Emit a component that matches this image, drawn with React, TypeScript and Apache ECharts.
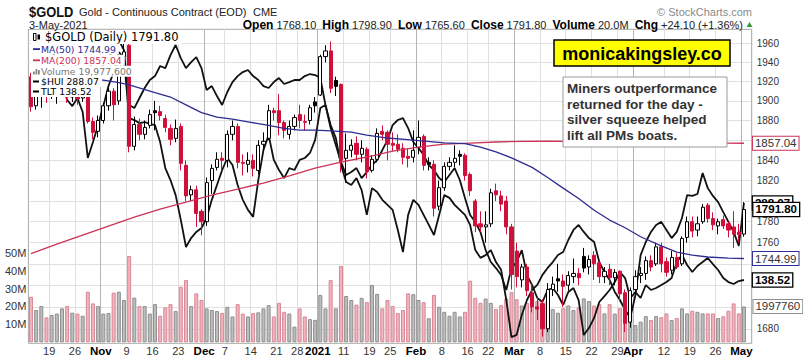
import { useEffect, useRef } from "react";
import * as echarts from "echarts";

// ---------- DATA ----------
const dates = [
  "2020-10-13","2020-10-14","2020-10-15","2020-10-16","2020-10-19","2020-10-20","2020-10-21","2020-10-22","2020-10-23","2020-10-26","2020-10-27","2020-10-28","2020-10-29","2020-10-30",
  "2020-11-02","2020-11-03","2020-11-04","2020-11-05","2020-11-06","2020-11-09","2020-11-10","2020-11-11","2020-11-12","2020-11-13","2020-11-16","2020-11-17","2020-11-18","2020-11-19","2020-11-20","2020-11-23","2020-11-24","2020-11-25","2020-11-27","2020-11-30",
  "2020-12-01","2020-12-02","2020-12-03","2020-12-04","2020-12-07","2020-12-08","2020-12-09","2020-12-10","2020-12-11","2020-12-14","2020-12-15","2020-12-16","2020-12-17","2020-12-18","2020-12-21","2020-12-22","2020-12-23","2020-12-24","2020-12-28","2020-12-29","2020-12-30","2020-12-31",
  "2021-01-04","2021-01-05","2021-01-06","2021-01-07","2021-01-08","2021-01-11","2021-01-12","2021-01-13","2021-01-14","2021-01-15","2021-01-19","2021-01-20","2021-01-21","2021-01-22","2021-01-25","2021-01-26","2021-01-27","2021-01-28","2021-01-29",
  "2021-02-01","2021-02-02","2021-02-03","2021-02-04","2021-02-05","2021-02-08","2021-02-09","2021-02-10","2021-02-11","2021-02-12","2021-02-16","2021-02-17","2021-02-18","2021-02-19","2021-02-22","2021-02-23","2021-02-24","2021-02-25","2021-02-26",
  "2021-03-01","2021-03-02","2021-03-03","2021-03-04","2021-03-05","2021-03-08","2021-03-09","2021-03-10","2021-03-11","2021-03-12","2021-03-15","2021-03-16","2021-03-17","2021-03-18","2021-03-19","2021-03-22","2021-03-23","2021-03-24","2021-03-25","2021-03-26","2021-03-29","2021-03-30","2021-03-31",
  "2021-04-01","2021-04-05","2021-04-06","2021-04-07","2021-04-08","2021-04-09","2021-04-12","2021-04-13","2021-04-14","2021-04-15","2021-04-16","2021-04-19","2021-04-20","2021-04-21","2021-04-22","2021-04-23","2021-04-26","2021-04-27","2021-04-28","2021-04-29","2021-04-30",
  "2021-05-03",
];

const opens = [
  1925,1895,1907,1908,1906,1911,1915,1929,1904,1905,1903,1910,1879,1869,
  1880,1895,1910,1900,1946,1958,1854,1876,1866,1875,1890,1889,1882,1872,1862,1874,1835,1806,1811,1790,
  1780,1820,1833,1842,1840,1866,1874,1838,1836,1840,1830,1856,1862,1890,1890,1878,1866,1874,1886,1878,1880,1899,
  1906,1946,1952,1921,1917,1842,1850,1857,1846,1851,1830,1841,1869,1868,1857,1856,1852,1844,1843,
  1853,1864,1838,1836,1795,1813,1834,1838,1846,1845,1826,1800,1778,1775,1778,1810,1805,1800,1775,
  1752,1725,1737,1713,1700,1703,1680,1716,1726,1724,1720,1728,1731,1747,1737,1748,1741,1728,1735,1727,1733,1713,1686,
  1716,1729,1731,1743,1740,1756,1742,1734,1746,1740,1765,1780,1772,1780,1796,1783,1776,1782,1778,1775,1770,
  1768.1,
];
const highs = [
  1929,1911,1913,1914,1922,1918,1935,1931,1912,1910,1915,1912,1883,1885,
  1898,1916,1913,1951,1966,1965,1884,1882,1880,1891,1900,1895,1886,1876,1881,1877,1840,1815,1815,1792,
  1823,1836,1848,1848,1870,1880,1877,1846,1848,1846,1860,1868,1896,1893,1907,1880,1880,1886,1896,1886,1896,1904,
  1948,1958,1962,1925,1918,1867,1861,1864,1860,1853,1845,1872,1875,1870,1868,1866,1857,1852,1870,
  1880,1866,1843,1840,1820,1838,1843,1855,1850,1847,1828,1802,1790,1790,1812,1817,1810,1805,1778,
  1760,1740,1740,1721,1710,1707,1722,1728,1740,1730,1733,1745,1736,1755,1748,1752,1742,1737,1740,1735,1734,1716,1718,
  1734,1737,1747,1748,1760,1760,1746,1752,1750,1766,1785,1785,1785,1797,1798,1789,1783,1786,1780,1790,1778,
  1798.9,
];
const lows = [
  1889,1891,1893,1898,1902,1897,1906,1898,1899,1896,1899,1877,1861,1863,
  1877,1890,1880,1896,1935,1848,1850,1860,1861,1872,1870,1880,1868,1855,1858,1830,1800,1800,1775,1767,
  1776,1807,1830,1830,1833,1860,1832,1825,1828,1824,1826,1849,1860,1880,1865,1862,1861,1870,1872,1870,1876,1888,
  1905,1940,1908,1905,1828,1818,1843,1840,1838,1822,1828,1838,1860,1840,1849,1848,1836,1833,1838,
  1846,1830,1830,1785,1791,1810,1830,1833,1835,1820,1805,1770,1770,1760,1775,1800,1790,1768,1716,
  1718,1718,1710,1695,1688,1673,1677,1710,1714,1700,1715,1722,1720,1732,1730,1725,1722,1722,1720,1720,1705,1677,1681,
  1712,1722,1725,1733,1738,1732,1728,1730,1735,1738,1760,1765,1766,1778,1779,1772,1768,1773,1765,1755,1760,
  1765.6,
];
const closes = [
  1894,1907,1908,1906,1911,1915,1929,1904,1905,1902,1911,1879,1868,1880,
  1895,1910,1896,1946,1951,1854,1876,1866,1873,1886,1888,1885,1873,1861,1872,1837,1805,1811,1788,1780,
  1818,1832,1841,1840,1866,1874,1838,1837,1840,1832,1855,1859,1890,1888,1878,1870,1874,1883,1880,1879,1893,1895,
  1946,1952,1913,1915,1840,1850,1855,1846,1852,1829,1841,1867,1866,1856,1855,1851,1843,1842,1850,
  1863,1835,1836,1793,1813,1834,1838,1842,1844,1825,1810,1776,1775,1777,1808,1806,1797,1775,1730,
  1728,1737,1715,1700,1698,1680,1716,1721,1724,1719,1729,1731,1727,1736,1744,1740,1728,1733,1727,1732,1712,1685,1715,
  1728,1731,1743,1737,1756,1740,1732,1746,1737,1764,1780,1771,1778,1794,1783,1777,1780,1776,1772,1768,1767.7,
  1791.8,
];

// volume in millions
const volumesM = [
  25.4,18.0,20.2,13.9,15.2,16.0,18.9,20.2,16.5,16.0,
  14.8,28.2,21.7,20.2,16.0,16.3,27.7,28.2,23.6,48.2,
  24.9,20.2,20.2,16.0,21.3,14.8,19.5,21.3,17.4,31.0,
  34.7,20.2,27.3,23.6,18.9,18.0,17.4,16.3,19.8,14.4,
  21.3,16.0,14.4,16.3,16.7,18.9,20.7,14.4,22.0,17.0,
  16.0,8.7,18.9,14.4,12.9,12.5,26.4,18.9,34.7,18.9,
  42.6,25.8,23.6,21.0,24.8,22.4,32.0,27.0,18.9,23.6,
  20.2,16.3,18.0,27.3,26.8,23.6,22.4,13.4,26.4,19.8,
  17.0,14.8,17.0,14.4,17.0,34.4,24.8,22.0,24.4,22.0,
  18.5,20.7,24.4,28.0,24.0,20.5,22.0,25.5,23.0,21.0,
  23.5,18.5,16.5,19.0,20.5,18.0,19.5,24.5,23.0,20.5,
  21.3,16.1,21.3,16.0,19.0,21.0,16.0,9.6,11.5,14.6,
  12.4,14.6,14.0,16.1,12.4,13.5,18.9,16.1,17.6,17.0,
  16.1,16.1,16.1,13.5,14.5,17.6,21.7,16.1,19.9776,
];

const huiValues = [
  332.9,335.0,335.7,333.9,332.2,330.4,331.4,325.0,322.8,325.7,
  320.7,304.2,309.9,316.0,322.8,330.0,335.0,342.2,340.0,318.5,
  317.8,316.7,317.1,316.4,316.0,309.9,300.6,296.3,290.9,282.0,
  272.3,275.5,277.7,279.1,282.7,289.2,294.5,299.9,304.2,301.7,
  294.5,289.2,285.6,283.1,296.3,307.1,312.4,303.5,299.9,297.0,
  300.6,299.9,303.5,304.2,306.0,310.7,322.1,323.2,316.0,311.4,
  301.7,295.6,294.5,297.0,292.7,283.8,293.4,292.0,289.2,287.4,
  285.6,278.4,270.5,283.8,289.2,287.4,283.8,280.2,276.6,283.8,
  290.9,289.9,287.4,285.6,283.8,280.2,271.2,268.4,269.4,271.2,
  266.9,264.1,253.3,240.0,240.8,247.9,253.3,256.9,258.7,262.3,
  264.8,266.9,269.4,270.5,274.8,278.4,280.2,277.7,275.5,274.1,
  266.9,263.3,260.5,256.2,253.3,249.7,246.9,255.1,269.4,274.1,
  277.7,280.2,281.3,278.4,275.5,277.7,282.7,290.9,290.6,291.3,
  298.8,293.4,290.6,288.4,284.8,281.3,277.7,272.7,288.07,
];

const tltValues = [
  159.44,159.27,159.44,159.01,158.40,157.87,157.52,156.39,156.65,157.52,
  157.87,157.52,157.00,156.83,157.26,157.70,159.01,159.44,158.57,153.78,
  153.51,154.39,155.26,155.96,156.30,157.18,157.00,158.13,159.01,157.87,
  157.00,157.52,157.96,157.00,155.08,155.43,154.56,153.78,154.91,155.78,
  156.30,156.65,156.83,156.30,155.96,155.43,155.26,155.78,156.13,155.61,
  155.78,155.96,155.96,156.30,156.48,156.39,156.13,153.78,151.77,150.29,
  148.81,147.67,147.93,148.28,147.41,147.93,148.54,148.98,149.85,150.72,
  152.03,152.47,152.64,151.77,150.55,150.03,149.42,148.54,148.11,147.41,
  147.06,147.67,148.28,147.24,145.67,144.19,143.57,142.70,141.13,140.09,
  139.56,138.95,137.65,139.56,140.09,141.13,138.95,138.08,136.95,136.60,
  137.65,137.82,137.21,136.34,137.47,137.82,136.77,133.72,134.33,135.21,
  136.60,137.12,137.65,138.34,139.22,138.69,136.95,137.47,136.95,138.08,
  137.65,137.82,138.08,138.34,138.69,140.09,140.70,139.83,139.22,139.74,
  140.09,140.44,139.91,139.39,138.69,138.34,138.17,138.43,138.52,
];

// [trading-day index, value]
const ma50Points: [number, number][] = [
  [0,1923],[7,1922],[14,1921.5],[17,1918.8],[19,1916.4],[24,1908.5],[27,1904],[30,1896],[33,1888],[36,1883.5],
  [39,1881.3],[42,1878.6],[46,1875],[49,1872],[52,1870.3],[55,1870.3],[58,1869.4],[62,1868.2],[65,1865.3],[69,1862.3],
  [74,1860.2],[80,1857.4],[84,1856.6],[87,1853.2],[90,1848.4],[93,1842.5],[97,1833],[100,1823],[103,1812.6],[106,1802.5],
  [109,1791],[112,1781.6],[115,1774.2],[118,1765.6],[122,1757],[125,1751.1],[128,1748.2],[131,1746.4],[135,1745.3],[138,1744.99],
];
const ma200Points: [number, number][] = [
  [0,1749.6],[5,1758.6],[10,1767.2],[15,1775.8],[20,1784.5],[25,1792.2],[30,1799],[35,1805.8],[40,1811.7],[45,1817.6],
  [50,1824.5],[55,1832.3],[60,1838.3],[65,1843.3],[70,1849.2],[75,1853.2],[80,1856.2],[85,1857.2],[90,1858.3],[95,1859],
  [100,1859.2],[105,1858.9],[110,1858.3],[115,1857.8],[120,1857.4],[125,1857.2],[130,1857.2],[135,1857.1],[138,1857.04],
];

const priceTicks = [1680,1700,1720,1740,1760,1780,1800,1820,1840,1860,1880,1900,1920,1940,1960];
// tick labels that are not hidden under the value tags on the right
const priceTickLabels = [1680,1760,1780,1820,1840,1880,1900,1920,1940,1960];
const volumeTicksM = [10,20,30,40,50];

const xTickLabels: [string, string][] = [
  ["2020-10-19","19"],["2020-10-26","26"],["2020-11-02","Nov"],["2020-11-09","9"],["2020-11-16","16"],["2020-11-23","23"],
  ["2020-12-01","Dec"],["2020-12-07","7"],["2020-12-14","14"],["2020-12-21","21"],["2020-12-28","28"],["2021-01-04","2021"],
  ["2021-01-11","11"],["2021-01-19","19"],["2021-01-25","25"],["2021-02-01","Feb"],["2021-02-08","8"],["2021-02-16","16"],
  ["2021-02-22","22"],["2021-03-01","Mar"],["2021-03-08","8"],["2021-03-15","15"],["2021-03-22","22"],["2021-03-29","29"],
  ["2021-04-01","Apr"],["2021-04-12","12"],["2021-04-19","19"],["2021-04-26","26"],["2021-05-03","May"],
];

const annotationLines = ["Miners outperformance", "returned for the day -", "silver squeeze helped", "lift all PMs boats."];
const watermarkText = "monicakingsley.co";

// ---------- STYLE / LAYOUT ----------
const SANS = '"Liberation Sans", Arial, Helvetica, sans-serif';
const VERD = '"DejaVu Sans", Verdana, sans-serif';
const RED = "#d0103a";
const NAVY = "#2c2c92";
const MA200_RED = "#cc3357";
const PRICE_MIN = 1666.9;
const PRICE_MAX = 1974.9;
const MONTHS = ["Jan","Feb","Mar","Apr","May","Jun","Jul","Aug","Sep","Oct","Nov","Dec"];

function buildOption() {
  const n = dates.length;
  const categories = [...dates, "pad"];
  const labelMap = new Map(xTickLabels);
  const isMonthLabel = (s: string) => s.length > 2;
  const monthDates = new Set(xTickLabels.filter(([, l]) => isMonthLabel(l)).map(([d]) => d));
  const weekDates = new Set(xTickLabels.filter(([, l]) => !isMonthLabel(l)).map(([d]) => d));
  const ln = Math.log;
  const lnTicks = priceTicks.map(ln);
  const lnTickLabels = priceTickLabels.map(ln);

  const last = n - 1;
  const lastClose = closes[last];
  const prevClose = closes[last - 1];
  const chg = lastClose - prevClose;
  const chgPct = (chg / prevClose) * 100;
  const lastVol = volumesM[last];
  const ma50Last = ma50Points[ma50Points.length - 1][1];
  const ma200Last = ma200Points[ma200Points.length - 1][1];
  const huiLast = huiValues[huiValues.length - 1];
  const tltLast = tltValues[tltValues.length - 1];
  const [yy, mm, dd] = dates[last].split("-");
  const dateText = `${parseInt(dd, 10)}-${MONTHS[parseInt(mm, 10) - 1]}-${yy}`;

  const candleData = opens.map((o, i) => {
    const c = closes[i];
    const prev = i > 0 ? closes[i - 1] : o;
    const stroke = c < prev ? RED : "#000";
    const fill = c > o ? "#fff" : stroke;
    return {
      value: [ln(o), ln(c), ln(lows[i]), ln(highs[i])],
      itemStyle: { color: fill, color0: fill, borderColor: stroke, borderColor0: stroke, borderColorDoji: stroke, borderWidth: 1 },
    };
  });

  const volData = volumesM.map((v, i) => {
    const prev = i > 0 ? closes[i - 1] : opens[i];
    const down = closes[i] < prev;
    return {
      value: v,
      itemStyle: down
        ? { color: "#efb4bd", borderColor: "#d98795", borderWidth: 1 }
        : { color: "#bdbdbd", borderColor: "#8e8e8e", borderWidth: 1 },
    };
  });

  const tag = (text: string, border: string, bold: boolean) => ({
    show: true,
    position: "right",
    formatter: text,
    distance: 9,
    backgroundColor: "#fff",
    borderColor: border,
    borderWidth: bold ? 1.3 : 1,
    padding: [1, 2, 0, 2],
    fontSize: 11.5,
    lineHeight: 12,
    fontWeight: bold ? "bold" : "normal",
    color: bold ? "#000" : "#333",
    fontFamily: SANS,
  });

  const legendRows = [
    { text: `$GOLD (Daily) ${lastClose.toFixed(2)}`, color: "#000", y: 37, font: `11.5px ${VERD}`, pad: 14 },
    { text: `MA(50) ${ma50Last.toFixed(2)}`, color: NAVY, y: 49, font: `9.3px ${VERD}`, pad: 10 },
    { text: `MA(200) ${ma200Last.toFixed(2)}`, color: MA200_RED, y: 60.2, font: `9.3px ${VERD}`, pad: 10 },
    { text: `Volume ${Math.round(lastVol * 1e6).toLocaleString("en-US")}`, color: "#777", y: 71.2, font: `9.3px ${VERD}`, pad: 10 },
    { text: `$HUI ${huiLast.toFixed(2)}`, color: "#000", y: 81.5, font: `9.3px ${VERD}`, pad: 10 },
    { text: `TLT ${tltLast.toFixed(2)}`, color: "#000", y: 91.5, font: `9.3px ${VERD}`, pad: 10 },
  ];

  const graphics: any[] = [];
  legendRows.forEach((r) => {
    graphics.push({
      type: "text", z: 50, x: 31, y: r.y,
      style: { text: r.text, font: r.font, fill: r.color, textVerticalAlign: "middle", backgroundColor: "#fff", padding: [1, 3, 1, r.pad] },
    });
  });
  // legend icons
  graphics.push(
    { type: "rect", z: 51, shape: { x: 33.5, y: 33.5, width: 2.5, height: 7 }, style: { fill: "#fff", stroke: "#000", lineWidth: 1 } },
    { type: "rect", z: 51, shape: { x: 37.5, y: 34.5, width: 2.5, height: 5 }, style: { fill: "#000" } },
    { type: "rect", z: 51, shape: { x: 33, y: 48.2, width: 7, height: 1.8 }, style: { fill: NAVY } },
    { type: "rect", z: 51, shape: { x: 33, y: 59.4, width: 7, height: 1.8 }, style: { fill: MA200_RED } },
    { type: "rect", z: 51, shape: { x: 33, y: 71.5, width: 1.8, height: 3 }, style: { fill: "#888" } },
    { type: "rect", z: 51, shape: { x: 35.5, y: 69, width: 1.8, height: 5.5 }, style: { fill: "#888" } },
    { type: "rect", z: 51, shape: { x: 38, y: 70, width: 1.8, height: 4.5 }, style: { fill: "#888" } },
    { type: "rect", z: 51, shape: { x: 33, y: 80.5, width: 6, height: 2 }, style: { fill: "#000" } },
    { type: "rect", z: 51, shape: { x: 33, y: 90.5, width: 6, height: 2 }, style: { fill: "#000" } },
  );

  // header
  graphics.push(
    { type: "text", z: 50, x: 29, y: 11.5, scaleX: 0.83, style: { x: 0, y: 0, text: "$GOLD", font: `bold 15.5px ${SANS}`, fill: "#111", textVerticalAlign: "middle" } },
    { type: "text", z: 50, x: 79, y: 11.5, style: { text: "Gold - Continuous Contract (EOD)", font: `11px ${SANS}`, fill: "#222", textVerticalAlign: "middle" } },
    { type: "text", z: 50, x: 253, y: 11.5, style: { text: "CME", font: `11px ${SANS}`, fill: "#222", textVerticalAlign: "middle" } },
    { type: "text", z: 50, x: 29, y: 24.5, style: { text: dateText, font: `11px ${SANS}`, fill: "#222", textVerticalAlign: "middle" } },
    { type: "text", z: 50, x: 752, y: 11.5, style: { text: "© StockCharts.com", font: `11px ${SANS}`, fill: "#8a8a8a", textAlign: "right", textVerticalAlign: "middle" } },
    {
      type: "text", z: 50, x: 743, y: 24.5,
      style: {
        text:
          `{b|Open} {n|${opens[last].toFixed(2)}}  {b|High} {n|${highs[last].toFixed(2)}}  {b|Low} {n|${lows[last].toFixed(2)}}  ` +
          `{b|Close} {n|${lastClose.toFixed(2)}}  {b|Volume} {n|${lastVol.toFixed(1)}M}  {b|Chg} {n|${chg >= 0 ? "+" : ""}${chg.toFixed(2)} (${chg >= 0 ? "+" : ""}${chgPct.toFixed(2)}%)}`,
        textAlign: "right", textVerticalAlign: "middle",
        font: `11px ${SANS}`, fill: "#222",
        rich: {
          b: { font: `bold 12px ${SANS}`, fill: "#000" },
          n: { font: `11px ${SANS}`, fill: "#222" },
        },
      },
    },
    { type: "polygon", z: 50, shape: { points: [[746.5, 27], [752.5, 27], [749.5, 22]] }, style: { fill: "#3a9a3a" } },
  );

  // annotations
  graphics.push(
    { type: "rect", z: 60, shape: { x: 554, y: 40, width: 176, height: 26 }, style: { fill: "#ffff00", stroke: "#000", lineWidth: 1.5 } },
    { type: "text", z: 61, x: 642, y: 53.5, style: { text: watermarkText, font: `bold 18px ${SANS}`, fill: "#000", textAlign: "center", textVerticalAlign: "middle" } },
    { type: "rect", z: 60, shape: { x: 563, y: 77, width: 164, height: 70 }, style: { fill: "#fff", stroke: "#9a9a9a", lineWidth: 1 } },
  );
  annotationLines.forEach((t, k) => {
    graphics.push({ type: "text", z: 61, x: 567, y: 88.5 + k * 15.5, style: { text: t, font: `bold 13.5px ${SANS}`, fill: "#333", textVerticalAlign: "middle" } });
  });

  return {
    animation: false,
    backgroundColor: "#fff",
    grid: { left: 28.4, right: 51.3, top: 29.3, bottom: 18.7, show: true, borderColor: "#a8a8a8", borderWidth: 1, backgroundColor: "transparent" },
    xAxis: [
      {
        type: "category", data: categories, boundaryGap: true,
        axisLine: { show: false }, axisTick: { show: false },
        axisLabel: {
          interval: (_i: number, v: string) => labelMap.has(v),
          formatter: (v: string) => {
            const l = labelMap.get(v) || "";
            return isMonthLabel(l) ? `{b|${l}}` : l;
          },
          margin: 2, padding: [0, 5, 0, 0], fontSize: 11, color: "#333", fontFamily: SANS,
          rich: { b: { fontWeight: "bold", fontSize: 11.5, color: "#000", fontFamily: SANS } },
        },
        splitLine: { show: true, interval: (_i: number, v: string) => weekDates.has(v), lineStyle: { color: "#e0e0e0", width: 1 } },
      },
      {
        type: "category", data: categories, boundaryGap: true, position: "top",
        axisLine: { show: false }, axisTick: { show: false }, axisLabel: { show: false },
        splitLine: { show: true, interval: (_i: number, v: string) => monthDates.has(v), lineStyle: { color: "#b4b4b4", width: 1 } },
      },
    ],
    yAxis: [
      {
        type: "value", position: "right", min: ln(PRICE_MIN), max: ln(PRICE_MAX), scale: true,
        axisLine: { show: false },
        axisTick: { show: false, customValues: lnTicks },
        axisLabel: { customValues: lnTickLabels, formatter: (v: number) => String(Math.round(Math.exp(v))), margin: 5, fontSize: 10, color: "#333", fontFamily: SANS },
        splitLine: { show: true, lineStyle: { color: "#e0e0e0", width: 1 } },
      },
      {
        type: "value", position: "left", min: -0.6, max: 174.8,
        axisLine: { show: false },
        axisTick: { show: false, customValues: volumeTicksM },
        axisLabel: { customValues: volumeTicksM, formatter: (v: number) => `${v}M`, margin: 2, fontSize: 11, color: "#333", fontFamily: SANS },
        splitLine: { show: false },
      },
      { type: "value", show: false, min: 237.78, max: 350.33, splitLine: { show: false } },
      { type: "value", show: false, min: 133.0, max: 160.38, splitLine: { show: false } },
    ],
    series: [
      {
        type: "bar", name: "Volume", xAxisIndex: 0, yAxisIndex: 1, data: volData, barWidth: 4, z: 1,
        markPoint: {
          symbol: "rect", symbolSize: 1, itemStyle: { color: "transparent" }, z: 6,
          data: [{ coord: [last, lastVol], label: tag(String(Math.round(lastVol * 1e5)), "#8e8e8e", false) }],
        },
      },
      {
        type: "line", name: "$HUI", yAxisIndex: 2, data: huiValues, symbol: "none", z: 2,
        lineStyle: { color: "#111", width: 1.8 }, endLabel: tag(huiLast.toFixed(2), "#000", true),
      },
      {
        type: "line", name: "TLT", yAxisIndex: 3, data: tltValues, symbol: "none", z: 2,
        lineStyle: { color: "#111", width: 1.8 }, endLabel: tag(tltLast.toFixed(2), "#000", true),
      },
      {
        type: "candlestick", name: "$GOLD", yAxisIndex: 0, data: candleData, barWidth: 3.6, z: 3,
        markPoint: {
          symbol: "rect", symbolSize: 1, itemStyle: { color: "transparent" }, z: 8,
          data: [{ coord: [last, ln(lastClose)], label: tag(lastClose.toFixed(2), "#000", true) }],
        },
      },
      {
        type: "line", name: "MA(200)", yAxisIndex: 0, data: ma200Points.map(([i, v]) => [i, ln(v)]), symbol: "none", z: 4,
        lineStyle: { color: MA200_RED, width: 1.3 }, endLabel: tag(ma200Last.toFixed(2), MA200_RED, false),
      },
      {
        type: "line", name: "MA(50)", yAxisIndex: 0, data: ma50Points.map(([i, v]) => [i, ln(v)]), symbol: "none", z: 4,
        lineStyle: { color: NAVY, width: 1.3 }, endLabel: tag(ma50Last.toFixed(2), NAVY, false),
      },
    ],
    graphic: graphics,
  };
}

export default function App() {
  const ref = useRef<HTMLDivElement>(null);
  useEffect(() => {
    if (!ref.current) return;
    const chart = echarts.init(ref.current, null, { renderer: "svg" });
    chart.setOption(buildOption() as any);
    return () => chart.dispose();
  }, []);
  return <div ref={ref} style={{ position: "absolute", left: 0, top: 0, width: 803, height: 362 }} />;
}
